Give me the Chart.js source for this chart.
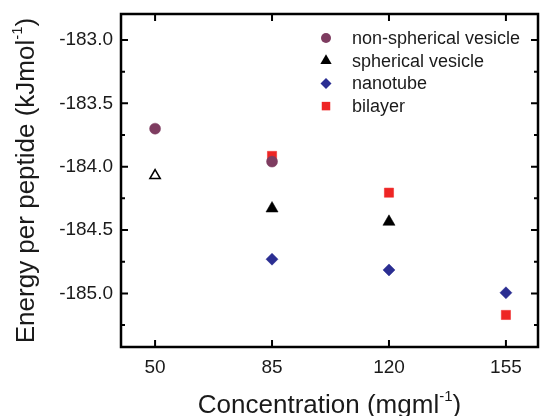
<!DOCTYPE html>
<html>
<head>
<meta charset="utf-8">
<script src="https://cdn.jsdelivr.net/npm/chart.js@4/dist/chart.umd.min.js"></script>
<style>
  body { margin: 0; background: #fff; }
  #wrap { width: 541px; height: 416px; }
</style>
</head>
<body>
<div id="wrap"><canvas id="c"></canvas></div>
<script>
var concentration = [50, 85, 120, 155];
var nonSpherical = [-183.70, -183.96, null, null];
var spherical = [null, -184.33, -184.435, null];
var sphericalOpen = [-184.07, null, null, null];   // hollow triangle at 50
var nanotube = [null, -184.73, -184.815, -184.995];
var bilayer = [null, -183.915, -184.205, -185.17];

var yTicks = [-185.0, -184.5, -184.0, -183.5, -183.0];
var yMinor = [-185.25, -184.75, -184.25, -183.75, -183.25];
var xTicks = [50, 85, 120, 155];

var FONT = "'Liberation Sans', Arial, sans-serif";

function toPoints(vals) {
    var pts = [];
    vals.forEach(function(v, i) {
        if (v !== null) pts.push({ x: concentration[i], y: v });
    });
    return pts;
}

var series = [
    { label: "non-spherical vesicle", data: nonSpherical, style: "circle", radius: 5.5, color: "#7e3c60" },
    { label: "spherical vesicle", data: spherical, style: "triangle", radius: 7, color: "#000000" },
    { label: "nanotube", data: nanotube, style: "rectRot", radius: 6, color: "#2b2e92" },
    { label: "bilayer", data: bilayer, style: "rect", radius: 6.5, color: "#ee2524" }
];

var datasets = series.map(function(s) {
    return {
        label: s.label,
        data: toPoints(s.data),
        pointStyle: s.style,
        pointRadius: s.radius,
        pointHoverRadius: s.radius,
        backgroundColor: s.color,
        borderColor: s.color,
        pointBorderWidth: 0.5
    };
});
datasets.push({
    label: "open",
    data: toPoints(sphericalOpen),
    pointStyle: "triangle",
    pointRadius: 6,
    pointHoverRadius: 6,
    backgroundColor: "#ffffff",
    borderColor: "#000000",
    pointBorderWidth: 1.5
});

function drawMarker(ctx, style, x, y, r) {
    ctx.beginPath();
    if (style === "circle") {
        ctx.arc(x, y, r, 0, Math.PI * 2);
    } else if (style === "triangle") {
        ctx.moveTo(x, y - r);
        ctx.lineTo(x + r * 0.866, y + r * 0.5);
        ctx.lineTo(x - r * 0.866, y + r * 0.5);
        ctx.closePath();
    } else if (style === "rectRot") {
        ctx.moveTo(x, y - r);
        ctx.lineTo(x + r, y);
        ctx.lineTo(x, y + r);
        ctx.lineTo(x - r, y);
        ctx.closePath();
    } else {
        var h = r * Math.SQRT1_2;
        ctx.rect(x - h, y - h, 2 * h, 2 * h);
    }
    ctx.fill();
}

var framePlugin = {
    id: "frame",
    afterDraw: function(chart) {
        var ctx = chart.ctx;
        var a = chart.chartArea;
        var xs = chart.scales.x, ys = chart.scales.y;
        ctx.save();
        ctx.strokeStyle = "#000";
        ctx.lineWidth = 2.5;
        ctx.strokeRect(a.left, a.top, a.right - a.left, a.bottom - a.top);

        ctx.lineWidth = 2;
        ctx.beginPath();
        yTicks.forEach(function(v) {
            var py = ys.getPixelForValue(v);
            ctx.moveTo(a.left, py); ctx.lineTo(a.left + 7, py);
            ctx.moveTo(a.right, py); ctx.lineTo(a.right - 7, py);
        });
        yMinor.forEach(function(v) {
            var py = ys.getPixelForValue(v);
            ctx.moveTo(a.left, py); ctx.lineTo(a.left + 4, py);
            ctx.moveTo(a.right, py); ctx.lineTo(a.right - 4, py);
        });
        xTicks.forEach(function(v) {
            var px = xs.getPixelForValue(v);
            ctx.moveTo(px, a.bottom); ctx.lineTo(px, a.bottom - 7);
            ctx.moveTo(px, a.top); ctx.lineTo(px, a.top + 7);
        });
        ctx.stroke();

        // legend
        var lx = 326, tx = 352, ly = 38, step = 22.7;
        ctx.font = "18px " + FONT;
        ctx.textBaseline = "middle";
        ctx.textAlign = "left";
        series.forEach(function(s, i) {
            var y = ly + i * step;
            ctx.fillStyle = s.color;
            drawMarker(ctx, s.style, lx, y, s.style === "triangle" ? 6.5 : s.radius - 0.5);
            ctx.fillStyle = "#1a1a1a";
            ctx.fillText(s.label, tx, y + 1);
        });

        // x title with superscript
        ctx.fillStyle = "#1a1a1a";
        ctx.textBaseline = "alphabetic";
        var big = "26px " + FONT, sup = "15px " + FONT;
        var p1 = "Concentration (mgml", p2 = "-1", p3 = ")";
        ctx.font = big; var w1 = ctx.measureText(p1).width, w3 = ctx.measureText(p3).width;
        ctx.font = sup; var w2 = ctx.measureText(p2).width;
        var total = w1 + w2 + w3;
        var cx = (a.left + a.right) / 2 - total / 2, by = 413;
        ctx.font = big; ctx.fillText(p1, cx, by);
        ctx.font = sup; ctx.fillText(p2, cx + w1, by - 12);
        ctx.font = big; ctx.fillText(p3, cx + w1 + w2, by);

        // y title, rotated
        var q1 = "Energy per peptide (kJmol", q2 = "-1", q3 = ")";
        ctx.font = big; var v1 = ctx.measureText(q1).width, v3 = ctx.measureText(q3).width;
        ctx.font = sup; var v2 = ctx.measureText(q2).width;
        var tot = v1 + v2 + v3;
        ctx.translate(34, (a.top + a.bottom) / 2);
        ctx.rotate(-Math.PI / 2);
        var sx = -tot / 2;
        ctx.font = big; ctx.fillText(q1, sx, 0);
        ctx.font = sup; ctx.fillText(q2, sx + v1, -12);
        ctx.font = big; ctx.fillText(q3, sx + v1 + v2, 0);
        ctx.restore();
    }
};

new Chart(document.getElementById("c"), {
    type: "scatter",
    data: { datasets: datasets },
    options: {
        responsive: true,
        maintainAspectRatio: false,
        animation: false,
        layout: {
            autoPadding: false,
            padding: { top: 14, right: 3, left: 0, bottom: 0 }
        },
        plugins: {
            legend: { display: false },
            tooltip: { enabled: false }
        },
        scales: {
            x: {
                type: "linear",
                min: 39.8,
                max: 164.6,
                grid: { display: false, drawTicks: false },
                border: { display: false },
                afterBuildTicks: function(scale) {
                    scale.ticks = xTicks.map(function(v) { return { value: v }; });
                },
                afterFit: function(scale) {
                    scale.height = 69;
                    scale.paddingLeft = 0;
                    scale.paddingRight = 0;
                },
                ticks: {
                    padding: 9,
                    color: "#1a1a1a",
                    font: { family: FONT, size: 19 },
                    maxRotation: 0,
                    callback: function(v) { return String(v); }
                }
            },
            y: {
                min: -185.423,
                max: -182.795,
                grid: { display: false, drawTicks: false },
                border: { display: false },
                afterBuildTicks: function(scale) {
                    scale.ticks = yTicks.map(function(v) { return { value: v }; });
                },
                afterFit: function(scale) {
                    scale.width = 121;
                    scale.paddingTop = 0;
                    scale.paddingBottom = 0;
                },
                ticks: {
                    padding: 8,
                    color: "#1a1a1a",
                    font: { family: FONT, size: 19 },
                    callback: function(v) { return Number(v).toFixed(1); }
                }
            }
        }
    },
    plugins: [framePlugin]
});
</script>
</body>
</html>
